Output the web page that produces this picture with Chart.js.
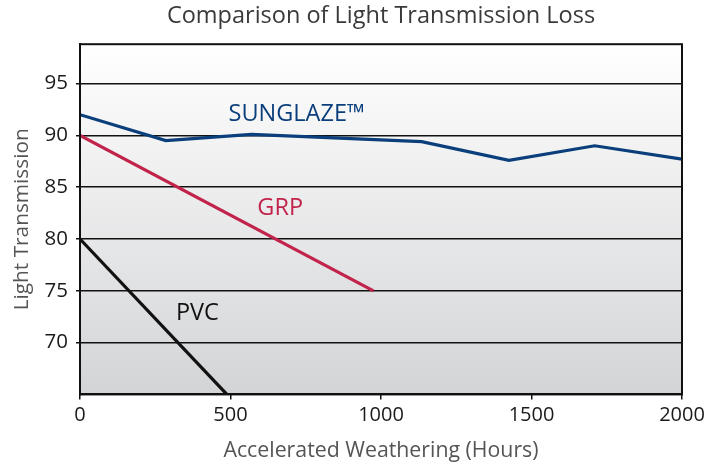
<!DOCTYPE html>
<html>
<head>
<meta charset="utf-8">
<script src="https://cdn.jsdelivr.net/npm/chart.js@4/dist/chart.umd.min.js"></script>
<style>
  html, body { margin: 0; padding: 0; background: #fff; }
  #wrap { width: 717px; height: 467px; }
</style>
</head>
<body>
<div id="wrap"><canvas id="chart" width="717" height="467"></canvas></div>
<script>
// Dados
const sunglazeHours = [0, 285, 570, 1135, 1425, 1710, 2000];
const sunglazeValues = [92.0, 89.5, 90.1, 89.4, 87.6, 89.0, 87.7];
const grpHours = [0, 975];
const grpValues = [90, 75];
const pvcHours = [0, 488];
const pvcValues = [80, 65];
const xTicks = [0, 500, 1000, 1500, 2000];
const yTicks = [70, 75, 80, 85, 90, 95];

const FONT = '"Open Sans", "Noto Sans", sans-serif';

function toPoints(xs, ys) {
    return xs.map((x, i) => ({ x: x, y: ys[i] }));
}

// Rótulos das séries desenhados dentro do gráfico
const seriesLabels = [
    { text: 'SUNGLAZE\u2122', x: 720, y: 92.0, color: '#0b3f7c' },
    { text: 'GRP', x: 665, y: 83.0, color: '#c1234b' },
    { text: 'PVC', x: 390, y: 72.8, color: '#111111' }
];

const backgroundPlugin = {
    id: 'plotBackground',
    beforeDraw(chart) {
        const { ctx, chartArea } = chart;
        if (!chartArea) return;
        const g = ctx.createLinearGradient(0, chartArea.top, 0, chartArea.bottom);
        g.addColorStop(0, '#ffffff');
        g.addColorStop(1, '#d3d4d6');
        ctx.save();
        ctx.fillStyle = g;
        ctx.fillRect(chartArea.left, chartArea.top, chartArea.right - chartArea.left, chartArea.bottom - chartArea.top);
        ctx.restore();
    },
    afterDraw(chart) {
        const { ctx, chartArea, scales } = chart;
        ctx.save();
        ctx.strokeStyle = '#111';
        ctx.lineWidth = 2;
        ctx.strokeRect(chartArea.left, chartArea.top, chartArea.right - chartArea.left, chartArea.bottom - chartArea.top);
        ctx.font = '23.5px ' + FONT;
        ctx.textAlign = 'center';
        ctx.textBaseline = 'middle';
        seriesLabels.forEach(l => {
            ctx.fillStyle = l.color;
            ctx.fillText(l.text, scales.x.getPixelForValue(l.x), scales.y.getPixelForValue(l.y));
        });
        ctx.restore();
    }
};

const ctx = document.getElementById('chart').getContext('2d');
new Chart(ctx, {
    type: 'line',
    data: {
        datasets: [
            {
                label: 'SUNGLAZE',
                data: toPoints(sunglazeHours, sunglazeValues),
                borderColor: '#0b3f7c',
                borderWidth: 3.2,
                pointRadius: 0,
                tension: 0
            },
            {
                label: 'GRP',
                data: toPoints(grpHours, grpValues),
                borderColor: '#c1234b',
                borderWidth: 3.2,
                pointRadius: 0
            },
            {
                label: 'PVC',
                data: toPoints(pvcHours, pvcValues),
                borderColor: '#111111',
                borderWidth: 3.2,
                pointRadius: 0
            }
        ]
    },
    options: {
        responsive: false,
        animation: false,
        layout: { padding: { left: 0, right: 35, top: 0, bottom: 3 } },
        scales: {
            x: {
                type: 'linear',
                min: 0,
                max: 2000,
                afterBuildTicks: axis => { axis.ticks = xTicks.map(v => ({ value: v })); },
                grid: { drawOnChartArea: false, drawTicks: true, tickLength: 5, color: '#111', lineWidth: 1.5 },
                border: { display: true, color: '#111', width: 2 },
                ticks: {
                    color: '#1a1a1a', font: { family: FONT, size: 20 }, padding: 4, maxRotation: 0,
                    callback: v => String(v)
                },
                title: { display: true, text: 'Accelerated Weathering (Hours)', color: '#555', font: { family: FONT, size: 21.3 }, padding: { top: 7, bottom: 0 } }
            },
            y: {
                type: 'linear',
                min: 65,
                max: 98.8,
                afterBuildTicks: axis => { axis.ticks = yTicks.map(v => ({ value: v })); },
                afterFit: axis => { axis.width = 80; },
                grid: { color: '#111', lineWidth: 1.5, tickLength: 4 },
                border: { display: true, color: '#111', width: 2 },
                ticks: { color: '#1a1a1a', font: { family: FONT, size: 20.5 }, padding: 8, callback: v => String(v) },
                title: { display: true, text: 'Light Transmission', color: '#555', font: { family: FONT, size: 20.8 }, padding: { top: 9.5, bottom: 0 } }
            }
        },
        plugins: {
            legend: { display: false },
            tooltip: { enabled: false },
            title: {
                display: true,
                fullSize: false,
                text: 'Comparison of Light Transmission Loss',
                color: '#3a3a3a',
                font: { family: FONT, size: 23.5, weight: 'normal' },
                padding: { top: 2, bottom: 14 }
            }
        }
    },
    plugins: [backgroundPlugin]
});
</script>
</body>
</html>
